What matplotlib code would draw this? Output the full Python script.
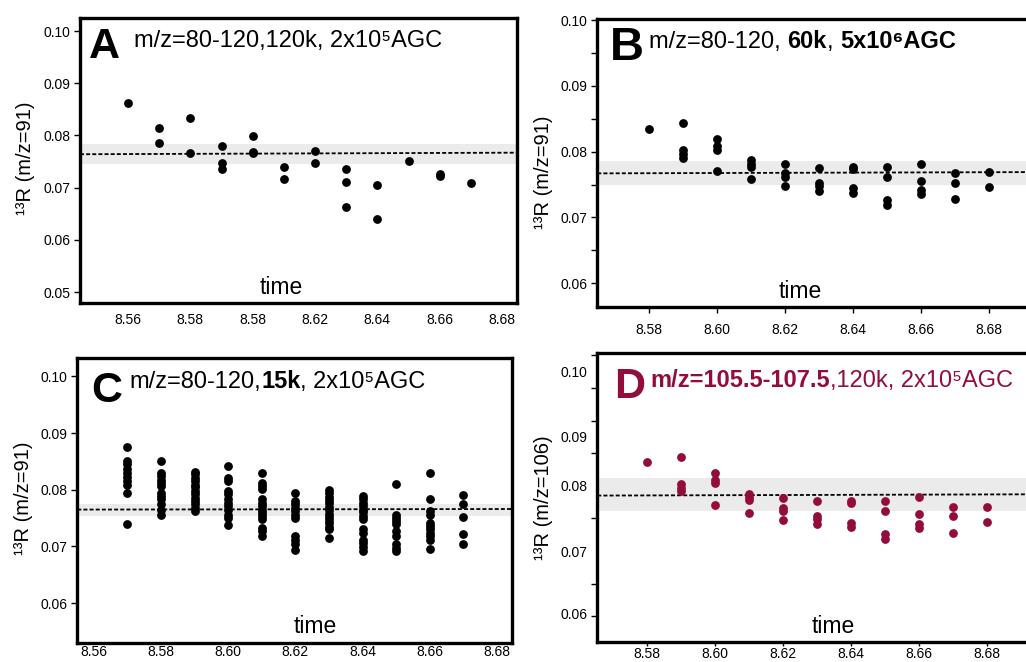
import matplotlib
matplotlib.use("Agg")
import matplotlib.pyplot as plt
import numpy as np

plt.rcParams["font.family"] = ["Liberation Sans", "DejaVu Sans"]

# ---------------- data ----------------
# panel A
a_time = [8.56, 8.57, 8.57, 8.58, 8.58, 8.59, 8.59, 8.59, 8.60, 8.60, 8.60,
          8.61, 8.61, 8.62, 8.62, 8.63, 8.63, 8.63, 8.64, 8.64, 8.65, 8.66,
          8.66, 8.67]
a_r = [0.0863, 0.0814, 0.0786, 0.0834, 0.0766, 0.0779, 0.0747, 0.0735, 0.0798,
       0.0769, 0.0767, 0.0740, 0.0716, 0.0770, 0.0747, 0.0736, 0.0710, 0.0662,
       0.0706, 0.0639, 0.0752, 0.0727, 0.0723, 0.0708]
a_mean = [0.0764, 0.0767]
a_band = [0.0746, 0.0783]
a_xticklabels = ["8.56", "8.58", "8.58", "8.62", "8.64", "8.66", "8.68"]

# panel B
b_time = [8.58, 8.59, 8.59, 8.59, 8.59, 8.60, 8.60, 8.60, 8.60, 8.61, 8.61,
          8.61, 8.61, 8.62, 8.62, 8.62, 8.62, 8.63, 8.63, 8.63, 8.63, 8.64,
          8.64, 8.64, 8.64, 8.65, 8.65, 8.65, 8.65, 8.66, 8.66, 8.66, 8.66,
          8.67, 8.67, 8.67, 8.68, 8.68]
b_r = [0.0835, 0.0844, 0.0803, 0.0796, 0.0791, 0.0820, 0.0809, 0.0803, 0.0770,
       0.0787, 0.0782, 0.0777, 0.0758, 0.0781, 0.0767, 0.0762, 0.0748, 0.0775,
       0.0753, 0.0748, 0.0740, 0.0776, 0.0773, 0.0744, 0.0737, 0.0776, 0.0762,
       0.0727, 0.0719, 0.0782, 0.0756, 0.0742, 0.0735, 0.0768, 0.0753, 0.0728,
       0.0769, 0.0746]
b_mean = [0.0767, 0.0769]
b_band = [0.0749, 0.0786]

# panel C (many scans per retention time)
c_time = [8.57, 8.58, 8.59, 8.60, 8.61, 8.62, 8.63, 8.64, 8.65, 8.66, 8.67]
c_r = [
    [0.0876, 0.0851, 0.0845, 0.0836, 0.0830, 0.0822, 0.0815, 0.0809, 0.0795, 0.0740],
    [0.0851, 0.0830, 0.0824, 0.0818, 0.0812, 0.0806, 0.0795, 0.0789, 0.0783,
     0.0774, 0.0765, 0.0756],
    [0.0832, 0.0827, 0.0821, 0.0815, 0.0809, 0.0804, 0.0798, 0.0792, 0.0786,
     0.0780, 0.0774, 0.0768, 0.0762],
    [0.0842, 0.0821, 0.0815, 0.0798, 0.0792, 0.0783, 0.0777, 0.0771, 0.0765,
     0.0756, 0.0751, 0.0737],
    [0.0830, 0.0812, 0.0806, 0.0801, 0.0783, 0.0777, 0.0771, 0.0765, 0.0759,
     0.0754, 0.0748, 0.0733, 0.0727, 0.0718],
    [0.0794, 0.0780, 0.0774, 0.0768, 0.0762, 0.0756, 0.0751, 0.0718, 0.0712,
     0.0705, 0.0694],
    [0.0799, 0.0794, 0.0788, 0.0782, 0.0776, 0.0770, 0.0764, 0.0758, 0.0752,
     0.0746, 0.0741, 0.0735, 0.0730, 0.0715],
    [0.0789, 0.0783, 0.0777, 0.0771, 0.0765, 0.0760, 0.0754, 0.0748, 0.0730,
     0.0724, 0.0712, 0.0706, 0.0699, 0.0692],
    [0.0811, 0.0756, 0.0751, 0.0745, 0.0739, 0.0728, 0.0718, 0.0704, 0.0698, 0.0692],
    [0.0830, 0.0784, 0.0762, 0.0756, 0.0742, 0.0736, 0.0730, 0.0724, 0.0718,
     0.0712, 0.0695],
    [0.0790, 0.0775, 0.0752, 0.0722, 0.0705],
]
c_mean = [0.0765, 0.0766]
c_band = [0.0754, 0.0775]

# panel D
d_time = b_time
d_r = [0.0836, 0.0844, 0.0803, 0.0797, 0.0792, 0.0820, 0.0809, 0.0804, 0.0770,
       0.0787, 0.0783, 0.0778, 0.0758, 0.0781, 0.0766, 0.0761, 0.0748, 0.0776,
       0.0753, 0.0749, 0.0741, 0.0777, 0.0773, 0.0743, 0.0737, 0.0776, 0.0762,
       0.0726, 0.0718, 0.0783, 0.0756, 0.0741, 0.0735, 0.0768, 0.0754, 0.0727,
       0.0768, 0.0745]
d_mean = [0.0785, 0.0787]
d_band = [0.0762, 0.0812]
d_ylabel_at = [0.0604, 0.07, 0.08, 0.0875, 0.0975]
d_ylabels = ["0.06", "0.07", "0.08", "0.09", "0.10"]

crimson = "#930d3b"
W, H = 1026, 662
fmt2 = matplotlib.ticker.FormatStrFormatter("%.2f")


def make_axes(fig, left, top, right, bottom):
    return fig.add_axes([left / W, 1 - bottom / H, (right - left) / W, (bottom - top) / H])


def write_title(ax, x, y, parts, size, color):
    txt = ax.text(x, y, parts[0][0], transform=ax.transAxes, fontsize=size,
                  fontweight=parts[0][1], color=color, va="baseline", ha="left")
    for s, w in parts[1:]:
        txt = ax.annotate(s, xy=(1, 0), xycoords=txt, fontsize=size, fontweight=w,
                          color=color, va="bottom", ha="left")


def panel(ax, times, vals, mean, band, xlim, ylim, letter, letter_xy, letter_size,
          title_xy, parts, time_xy, ylabel, ylabel_xy, color="black",
          xtick_len=0, xpad=6):
    ax.axhspan(band[0], band[1], color="#ebebeb", lw=0, zorder=0)
    ax.plot(xlim, mean, color="black", lw=1.3, dashes=(2.2, 1.2), zorder=2)
    ax.scatter(times, vals, s=40, color=color, lw=0, zorder=3)
    ax.set_xlim(xlim)
    ax.set_ylim(ylim)
    for sp in ax.spines.values():
        sp.set_linewidth(2.4)
    ax.tick_params(axis="y", direction="out", length=4, width=1, pad=3, labelsize=10)
    ax.tick_params(axis="x", direction="out", length=xtick_len, width=1, pad=xpad,
                   labelsize=10)
    ax.text(letter_xy[0], letter_xy[1], letter, transform=ax.transAxes,
            fontsize=letter_size, fontweight="bold", color=color, va="baseline",
            ha="left")
    write_title(ax, title_xy[0], title_xy[1], parts, 17, color)
    ax.text(time_xy[0], time_xy[1], "time", transform=ax.transAxes, fontsize=16.5,
            ha="center", va="baseline")
    ax.set_ylabel(ylabel, fontsize=14.5)
    ax.yaxis.set_label_coords(ylabel_xy[0], ylabel_xy[1])


fig = plt.figure(figsize=(W / 100, H / 100), dpi=100)

# A
ax = make_axes(fig, 80, 18, 517, 303)
panel(ax, a_time, a_r, a_mean, a_band, (8.5446, 8.6848), (0.0479, 0.1025), "A",
      (0.021, 0.860), 31, (0.124, 0.899),
      [("m/z=80-120,120k, 2x10\u2075AGC", "normal")], (0.46, 0.031),
      "\u00b9\u00b3R (m/z=91)", (-0.103, 0.509), xpad=7)
ax.set_xticks(np.arange(8.56, 8.681, 0.02))
ax.set_xticklabels(a_xticklabels)
ax.set_yticks(np.arange(0.05, 0.1001, 0.01))
ax.yaxis.set_major_formatter(fmt2)

# B
ax = make_axes(fig, 597.3, 19, 1045, 306.7)
panel(ax, b_time, b_r, b_mean, b_band, (8.5649, 8.6966), (0.0564, 0.1002), "B",
      (0.028, 0.858), 34, (0.116, 0.898),
      [("m/z=80-120, ", "normal"), ("60k", "bold"), (", ", "normal"),
       ("5x10\u2076AGC", "bold")], (0.454, 0.029),
      "\u00b9\u00b3R (m/z=91)", (-0.099, 0.468), xtick_len=4, xpad=8)
ax.set_xticks(np.arange(8.58, 8.681, 0.02))
ax.xaxis.set_major_formatter(fmt2)
ax.set_yticks(np.arange(0.06, 0.1001, 0.01))
ax.set_yticks(np.arange(0.065, 0.1, 0.01), minor=True)
ax.tick_params(axis="y", which="minor", length=4, width=1)
ax.yaxis.set_major_formatter(fmt2)

# C
ax = make_axes(fig, 77.3, 358.3, 511.7, 643.3)
c_x = [t for t, col in zip(c_time, c_r) for _ in col]
c_y = [v for col in c_r for v in col]
panel(ax, c_x, c_y, c_mean, c_band, (8.5551, 8.6844), (0.0529, 0.1032), "C",
      (0.031, 0.848), 31, (0.120, 0.895),
      [("m/z=80-120,", "normal"), ("15k", "bold"), (", 2x10\u2075AGC", "normal")],
      (0.547, 0.035), "\u00b9\u00b3R (m/z=91)", (-0.102, 0.51), xpad=1.5)
ax.set_xticks(np.arange(8.56, 8.681, 0.02))
ax.set_yticks(np.arange(0.06, 0.1001, 0.01))
ax.xaxis.set_major_formatter(fmt2)
ax.yaxis.set_major_formatter(fmt2)

# D
ax = make_axes(fig, 597.3, 352.7, 1045, 641.7)
panel(ax, d_time, d_r, d_mean, d_band, (8.5655, 8.6971), (0.0561, 0.1004), "D",
      (0.037, 0.843), 31, (0.119, 0.881),
      [("m/z=105.5-107.5", "bold"), (",120k, 2x10\u2075AGC", "normal")],
      (0.526, 0.029), "\u00b9\u00b3R (m/z=106)", (-0.099, 0.50), color=crimson,
      xtick_len=3, xpad=1)
ax.set_xticks(np.arange(8.58, 8.681, 0.02))
ax.xaxis.set_major_formatter(fmt2)
ax.set_yticks(d_ylabel_at)
ax.set_yticklabels(d_ylabels)
ax.tick_params(axis="y", which="major", length=0, pad=7)
ax.set_yticks(np.arange(0.06, 0.1001, 0.005), minor=True)
ax.tick_params(axis="y", which="minor", length=4, width=1)

fig.savefig("out.png", dpi=100)
